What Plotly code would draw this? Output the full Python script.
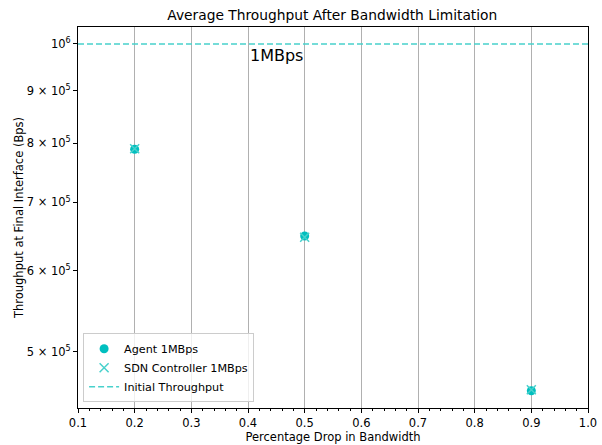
import plotly.graph_objects as go

drops = [0.2, 0.5, 0.9]
agent_tp = [789000, 649000, 458000]
sdn_tp = [790000, 647000, 459000]
initial_tp = 1000000
xticks = [0.1, 0.2, 0.3, 0.4, 0.5, 0.6, 0.7, 0.8, 0.9, 1.0]
yticks = [500000, 600000, 700000, 800000, 900000, 1000000]
yticklabels = ["5 × 10<sup>5</sup>", "6 × 10<sup>5</sup>", "7 × 10<sup>5</sup>",
               "8 × 10<sup>5</sup>", "9 × 10<sup>5</sup>", "10<sup>6</sup>"]

fig = go.Figure()
fig.add_trace(go.Scatter(x=drops, y=agent_tp, mode="markers", name="Agent 1MBps",
                         marker=dict(color="#00BFBF", size=9, symbol="circle")))
fig.add_trace(go.Scatter(x=drops, y=sdn_tp, mode="markers", name="SDN Controller 1MBps",
                         marker=dict(color="#48D1CC", size=9, symbol="x-thin",
                                     line=dict(color="#48D1CC", width=1.5))))
fig.add_trace(go.Scatter(x=[0.1, 1.0], y=[initial_tp, initial_tp], mode="lines",
                         name="Initial Throughput",
                         line=dict(color="#48D1CC", dash="6px,3px", width=1.5)))

fig.add_annotation(x=0.4, y=5.989, xref="x", yref="y", text="1MBps", showarrow=False,
                   xanchor="left", yanchor="middle", font=dict(size=16, color="black"))

fig.update_layout(
    width=602, height=445,
    margin=dict(l=78, r=14, t=27, b=37),
    paper_bgcolor="white", plot_bgcolor="white",
    font=dict(family="DejaVu Sans", size=11.5, color="black"),
    title=dict(text="Average Throughput After Bandwidth Limitation", x=0.552, xanchor="center",
               y=0.965, yanchor="middle", font=dict(size=13.8)),
    legend=dict(x=0.01, y=0.015, xanchor="left", yanchor="bottom",
                bgcolor="rgba(255,255,255,0.8)", bordercolor="#cccccc", borderwidth=1,
                font=dict(size=11.2), tracegroupgap=0, itemwidth=30),
    showlegend=True,
)
fig.update_xaxes(range=[0.1, 1.0], tickvals=xticks, ticktext=[f"{v:.1f}" for v in xticks],
                 showgrid=True, gridcolor="#b0b0b0", gridwidth=1, automargin=False,
                 showline=True, linecolor="black", linewidth=1, mirror=True,
                 ticks="outside", ticklen=4, tickcolor="black", zeroline=False,
                 minor=dict(dtick=0.02, ticks="outside", ticklen=2, tickcolor="black", showgrid=False),
                 title=dict(text="Percentage Drop in Bandwidth", font=dict(size=11.5), standoff=4))
fig.update_yaxes(type="log", range=[5.644, 6.0166], tickvals=yticks, ticktext=yticklabels,
                 showgrid=False, showline=True, linecolor="black", linewidth=1, mirror=True,
                 ticks="outside", ticklen=4, tickcolor="black", zeroline=False, automargin=False,
                 title=dict(text="Throughput at Final Interface (Bps)", font=dict(size=11.5), standoff=0))

fig.write_html("out.html")
